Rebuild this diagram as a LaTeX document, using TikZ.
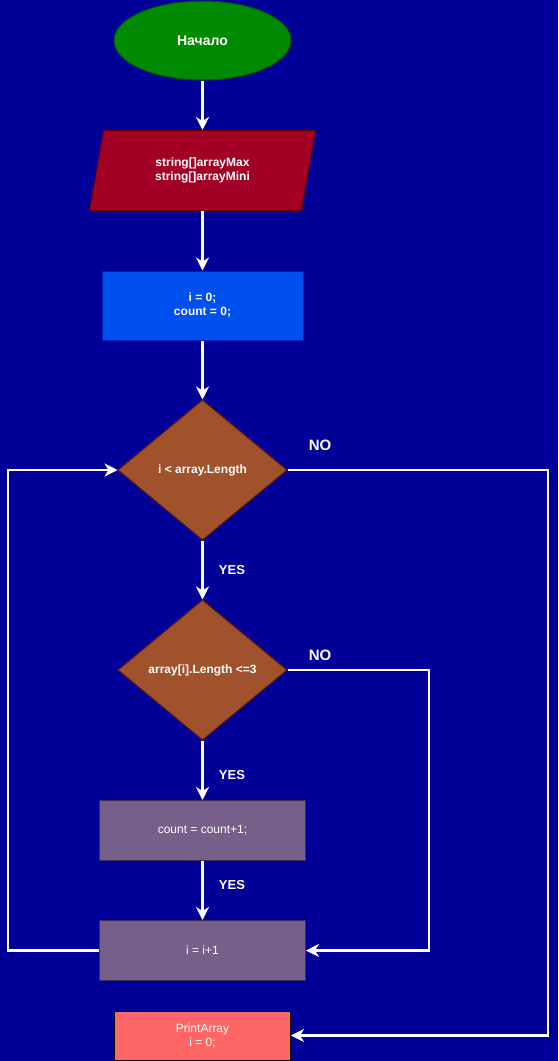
\documentclass[tikz,border=0pt]{standalone}
\usepackage{fontspec}
\setmainfont{Liberation Sans}
\usetikzlibrary{shapes.geometric,arrows.meta}
\definecolor{bgblue}{HTML}{000099}
\definecolor{greenf}{HTML}{008A00}
\definecolor{greens}{HTML}{005700}
\definecolor{redf}{HTML}{A20025}
\definecolor{reds}{HTML}{6F0000}
\definecolor{bluef}{HTML}{0050EF}
\definecolor{blues}{HTML}{001DBC}
\definecolor{brownf}{HTML}{A0522D}
\definecolor{browns}{HTML}{6D1F00}
\definecolor{purplef}{HTML}{76608A}
\definecolor{purples}{HTML}{432D57}
\definecolor{pinkf}{HTML}{FF6666}
\tikzset{
  boldtxt/.style={font=\fontsize{12}{14}\selectfont\bfseries, text=white, align=center},
  regtxt/.style={font=\fontsize{12}{14}\selectfont, text=white, align=center},
  base/.style={inner sep=0pt, line width=1pt},
  startbox/.style={base, boldtxt, ellipse, fill=greenf, draw=greens, minimum width=177pt, minimum height=79pt, font=\fontsize{14}{16}\selectfont\bfseries},
  iobox/.style={base, boldtxt, trapezium, trapezium left angle=75, trapezium right angle=105, trapezium stretches=true, fill=redf, draw=reds, minimum width=226pt, minimum height=80pt},
  initbox/.style={base, boldtxt, rectangle, fill=bluef, draw=blues, minimum width=201pt, minimum height=69pt},
  decbox/.style={base, boldtxt, diamond, fill=brownf, draw=browns, minimum width=169pt, minimum height=140pt},
  procbox/.style={base, regtxt, rectangle, fill=purplef, draw=purples, minimum width=206pt, minimum height=60pt},
  outbox/.style={base, regtxt, rectangle, fill=pinkf, draw=black, minimum width=176pt, minimum height=49pt},
  arr/.style={draw=white, line width=2.5pt, -{Stealth[length=13pt, width=13pt, inset=4pt]}},
  lbl/.style={text=white, font=\fontsize{13}{15}\selectfont\bfseries, inner sep=0pt},
  lblno/.style={text=white, font=\fontsize{15}{17}\selectfont\bfseries, inner sep=0pt}
}
\begin{document}
\begin{tikzpicture}[x=1pt, y=-1pt]
\useasboundingbox (0,0) rectangle (558,1061);
\fill[bgblue] (0,0) rectangle (558,1061);

\node[startbox] (start) at (202.5,40.5) {Начало};
\node[iobox] (inp) at (202.5,170.5) {string[]arrayMax\\string[]arrayMini};
\node[initbox] (init) at (202.5,305.5) {i = 0;\\count = 0;};
\node[decbox] (d1) at (202.5,470) {i < array.Length};
\node[decbox] (d2) at (202.5,670) {array[i].Length <=3};
\node[procbox] (cnt) at (202.5,830.5) {count = count+1;};
\node[procbox] (inc) at (202.5,950.5) {i = i+1};
\node[outbox] (pa) at (202.5,1035.5) {PrintArray\\i = 0;};

\node[lblno] (no1) at (320,445) {NO};
\node[lblno] (no2) at (320,655) {NO};
\node[lbl] (yes1) at (232,570) {YES};
\node[lbl] (yes2) at (232,775) {YES};
\node[lbl] (yes3) at (232,885) {YES};

\coordinate (r1) at (548,470);
\coordinate (r2) at (429,670);
\coordinate (l1) at (8,950.5);

\draw[arr] (start) -- (inp);
\draw[arr] (inp) -- (init);
\draw[arr] (init) -- (d1);
\draw[arr] (d1) -- (d2);
\draw[arr] (d2) -- (cnt);
\draw[arr] (cnt) -- (inc);
\draw[arr] (d1.east) -- (r1) |- (pa.east);
\draw[arr] (d2.east) -- (r2) |- (inc.east);
\draw[arr] (inc.west) -- (l1) |- (d1.west);
\end{tikzpicture}
\end{document}
